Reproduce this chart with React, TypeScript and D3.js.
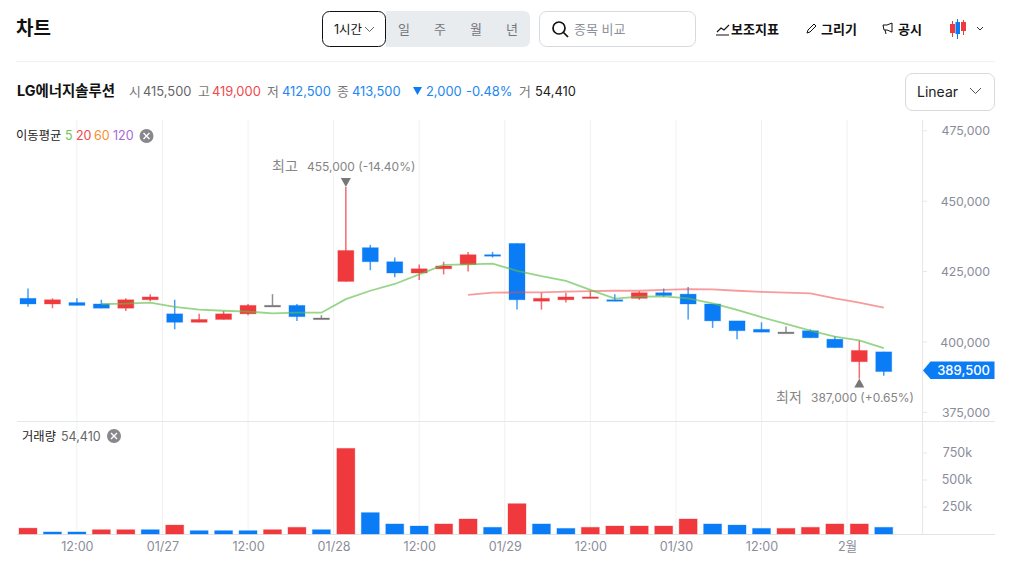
import React from 'react';
import * as d3 from 'd3';

const opens = [415500,413500,414000,413500,412000,415000,410000,407000,408000,410000,413000,413000,408500,421500,433500,428500,424500,426000,427500,431000,435000,414500,415000,415500,415000,415500,417500,417000,413500,407500,404500,403500,404000,401000,393000,396500];
const highs = [419000,415500,415500,415000,415500,417000,415000,410000,411000,413500,417000,413500,409500,455000,434500,430000,427500,428500,432000,432000,435000,417500,417500,418000,417000,418000,419000,419500,413500,407500,407000,405500,404500,402000,400500,396500];
const lows = [412500,412000,413000,412000,411000,414500,404500,407000,408000,409500,413000,407500,408500,421500,425500,423000,422000,424000,425000,430000,411500,411500,414000,415500,414500,415000,416000,408000,405000,401000,403500,403500,401500,398000,387000,388000];
const closes = [413500,415000,413000,412000,415000,416000,407000,408000,410000,413000,413000,409000,408500,432500,428500,424500,426000,427000,431000,430500,415000,415500,416000,416000,414500,417500,416500,413500,407500,404000,403500,403500,401500,398000,397000,389500];
const ma5 = [413500,413600,414000,412500,411500,411100,410800,410200,410400,410400,415200,418200,420600,424000,427400,427600,427800,425300,423400,421700,418500,415400,416100,416200,415500,413700,411400,408800,406400,404000,401900,400600,397800];
const ma5Start = 3;
const ma20 = [416700,417500,417600,417600,417900,418100,418200,418200,418500,418800,418700,418200,417800,417500,417300,415500,414000,412200];
const ma20Start = 18;
const volumes = [54410,19000,19000,40000,40000,40000,83000,31000,31000,31000,40000,62000,40000,793000,198000,93000,74000,93000,139000,62000,281000,93000,52000,62000,74000,74000,74000,139000,93000,83000,52000,52000,62000,93000,93000,62000];
const volumeUp = [1,0,0,1,1,0,1,0,0,0,1,1,0,1,0,0,0,1,1,0,1,0,0,1,1,1,1,1,0,0,0,1,1,1,1,0];
const timePositions = [2,5.5,9,12.5,16,19.5,23,26.5,30,33.5];
const timeLabels = ['12:00','01/27','12:00','01/28','12:00','01/29','12:00','01/30','12:00','2월'];
const priceTicks = [475000,450000,425000,400000,375000];
const volumeTicks = [250000,500000,750000];
const periods = ['일','주','월','년'];

const RED = '#f0393c';
const BLUE = '#0a7cf5';
const GRAY = '#6b6b6b';
const FONT = "Inter, 'Noto Sans CJK KR', sans-serif";

const x = d3.scaleLinear().domain([0, 35]).range([28, 883.75]);
const y = d3.scaleLinear().domain([375000, 475000]).range([412.4, 130.8]);
const v = d3.scaleLinear().domain([0, 750000]).range([534, 453]);
const priceLine = (start: number) => d3.line<number>().x((_, i) => x(i + start)).y(d => y(d));
const fmt = d3.format(',');

function CloseIcon({ cx, cy }: { cx: number; cy: number }) {
  return (
    <g>
      <circle cx={cx} cy={cy} r={7} fill="#87878c" />
      <path d={`M${cx - 3} ${cy - 3}L${cx + 3} ${cy + 3}M${cx + 3} ${cy - 3}L${cx - 3} ${cy + 3}`} stroke="#fff" strokeWidth={1.4} />
    </g>
  );
}

function T(p: any) {
  return <text fontFamily={FONT} {...p} />;
}

export default function App() {
  return (
    <svg width={1012} height={572} style={{ position: 'fixed', left: 0, top: 0, background: '#fff' }}>
      {/* header */}
      <T x={16} y={35} fontSize={19} fontWeight={700} fill="#111">차트</T>
      <path d="M386 11H524a6 6 0 0 1 6 6V41a6 6 0 0 1-6 6H386Z" fill="#e9ecef" />
      <rect x={322.5} y={11.5} width={63} height={35} rx={7} fill="#fff" stroke="#111" />
      <T x={334} y={33.5} fontSize={12.5} fill="#111">1시간</T>
      <path d="M365 27l4.5 4.5 4.5-4.5" fill="none" stroke="#666" />
      {periods.map((p, i) => (
        <T key={p} x={404 + i * 36} y={33.5} fontSize={13} textAnchor="middle" fill="#71767c">{p}</T>
      ))}
      <rect x={539.5} y={11.5} width={156} height={35} rx={7} fill="#fff" stroke="#d6d9dd" />
      <circle cx={559} cy={28} r={6} fill="none" stroke="#111" strokeWidth={1.7} />
      <path d="M563.5 32.5L568 37" stroke="#111" strokeWidth={1.7} />
      <T x={574} y={33.5} fontSize={13} fill="#8b9198">종목 비교</T>
      <path d="M717 32l4-4 3 2 5-5M716 35H729" fill="none" stroke="#111" strokeWidth={1.1} />
      <T x={731} y={33.5} fontSize={13} fontWeight={700} fill="#111">보조지표</T>
      <path d="M807 33l1-3 6-6 2 2-6 6Z" fill="none" stroke="#111" />
      <T x={821} y={33.5} fontSize={13} fontWeight={700} fill="#111">그리기</T>
      <path d="M883 25H887L892 23V32L887 30H884ZM885 30l1 4" fill="none" stroke="#111" />
      <T x={898} y={33.5} fontSize={13} fontWeight={700} fill="#111">공시</T>
      <path d="M952.5 21V37" stroke={RED} /><rect x={950} y={24} width={5} height={9} fill={RED} />
      <path d="M957.5 19V39" stroke={BLUE} /><rect x={955.5} y={22} width={4.5} height={12} fill={BLUE} />
      <path d="M963.5 20V35" stroke={RED} /><rect x={961} y={22} width={5} height={9} fill={RED} />
      <path d="M977 27l3 3 3-3" fill="none" stroke="#333" />
      <line x1={16} x2={995} y1={61.5} y2={61.5} stroke="#f0f1f3" />

      {/* summary row */}
      <T x={17} y={96} fontSize={14.4} fontWeight={700} fill="#111">LG에너지솔루션</T>
      <g fontSize={12.9}>
        <T x={129} y={96} fill="#777">시</T><T x={143} y={96} fill="#666">415,500</T>
        <T x={198} y={96} fill="#777">고</T><T x={212} y={96} fill="#f0484b">419,000</T>
        <T x={267} y={96} fill="#777">저</T><T x={282} y={96} fill="#2186f0">412,500</T>
        <T x={337} y={96} fill="#777">종</T><T x={352} y={96} fill="#2186f0">413,500</T>
        <path d="M413 87H422L417.5 95Z" fill={BLUE} />
        <T x={426} y={96} fill="#2186f0">2,000</T><T x={466} y={96} fill="#2186f0">-0.48%</T>
        <T x={519} y={96} fill="#777">거</T><T x={535} y={96} fill="#222">54,410</T>
      </g>
      <rect x={905.5} y={73.5} width={89} height={37} rx={7} fill="#fff" stroke="#d6d9dd" />
      <T x={917} y={97} fontSize={14} fill="#222">Linear</T>
      <path d="M970 88l5.5 5.5 5.5-5.5" fill="none" stroke="#555" />

      {/* grid and axes */}
      {timePositions.map((t, i) => (
        <line key={i} x1={x(t)} x2={x(t)} y1={120} y2={534} stroke="#f0f1f3" />
      ))}
      <line x1={922.5} x2={922.5} y1={120} y2={534} stroke="#e6e7e9" />
      <line x1={17} x2={995} y1={421.5} y2={421.5} stroke="#e6e7e9" />
      <line x1={17} x2={995} y1={534.5} y2={534.5} stroke="#e2e3e6" />
      {priceTicks.map(t => (
        <g key={t}>
          <line x1={923} x2={927} y1={y(t)} y2={y(t)} stroke="#e6e7e9" />
          <T x={990} y={y(t) + 4.5} fontSize={12.3} textAnchor="end" fill="#8a8d99">{fmt(t)}</T>
        </g>
      ))}
      {volumeTicks.map(t => (
        <g key={t}>
          <line x1={923} x2={927} y1={v(t)} y2={v(t)} stroke="#e6e7e9" />
          <T x={972} y={v(t) + 4} fontSize={12.5} textAnchor="end" fill="#8a8d99">{`${t / 1000}k`}</T>
        </g>
      ))}
      {timeLabels.map((l, i) => (
        <T key={i} x={x(timePositions[i]) + 0.5} y={551} fontSize={12.6} textAnchor="middle" fill="#8a8d99">{l}</T>
      ))}

      {/* volume */}
      {volumes.map((d, i) => (
        <rect key={i} x={x(i) - 9} y={v(d)} width={18} height={534 - v(d)}
          fill={volumeUp[i] ? RED : BLUE} stroke={volumeUp[i] ? RED : BLUE} strokeOpacity={0.3} />
      ))}

      {/* candles */}
      {opens.map((o, i) => {
        const c = closes[i];
        const color = c > o ? RED : c < o ? BLUE : GRAY;
        const top = y(Math.max(o, c));
        const h = Math.max(Math.abs(y(o) - y(c)), 1.5);
        return (
          <g key={i}>
            <line x1={x(i)} x2={x(i)} y1={y(highs[i])} y2={y(lows[i])} stroke={color} strokeOpacity={0.75} strokeWidth={1.5} />
            <rect x={x(i) - 8} y={top} width={16} height={h} fill={color} stroke={color} strokeOpacity={0.3} />
          </g>
        );
      })}

      {/* moving averages */}
      <path d={priceLine(ma20Start)(ma20) ?? ''} fill="none" stroke="#f0484b" strokeOpacity={0.55} strokeWidth={1.8} />
      <path d={priceLine(ma5Start)(ma5) ?? ''} fill="none" stroke="#5fbf4a" strokeOpacity={0.65} strokeWidth={1.8} />

      {/* legends */}
      <g fontSize={12.5}>
        <T x={16} y={140} fontSize={12.3} fill="#222">이동평균</T>
        <T x={65} y={140} fill="#6cc650">5</T>
        <T x={76} y={140} fill="#f0484b">20</T>
        <T x={94} y={140} fill="#f78f2e">60</T>
        <T x={113} y={140} fill="#a668d8">120</T>
      </g>
      <CloseIcon cx={146.5} cy={136} />
      <T x={22} y={441} fontSize={12.3} fill="#222">거래량</T>
      <T x={61} y={441} fontSize={12.5} fill="#666">54,410</T>
      <CloseIcon cx={114} cy={436} />

      {/* extremes */}
      <T x={272} y={171} fontSize={14} fill="#858585">최고</T>
      <T x={307} y={171} fontSize={12} fill="#858585">455,000 (-14.40%)</T>
      <path d={`M${x(13) - 5} ${y(455000) - 9}H${x(13) + 5}L${x(13)} ${y(455000)}Z`} fill="#777" />
      <T x={776} y={402} fontSize={14} fill="#858585">최저</T>
      <T x={811} y={402} fontSize={12} fill="#858585">387,000 (+0.65%)</T>
      <path d={`M${x(34) - 5} ${y(387000) + 9}H${x(34) + 5}L${x(34)} ${y(387000)}Z`} fill="#777" />

      {/* current price */}
      <path d="M923 370.5L930.5 361.5H994.5V379H930.5Z" fill={BLUE} />
      <T x={990} y={375} fontSize={13} fontWeight={500} textAnchor="end" fill="#fff">389,500</T>
    </svg>
  );
}
